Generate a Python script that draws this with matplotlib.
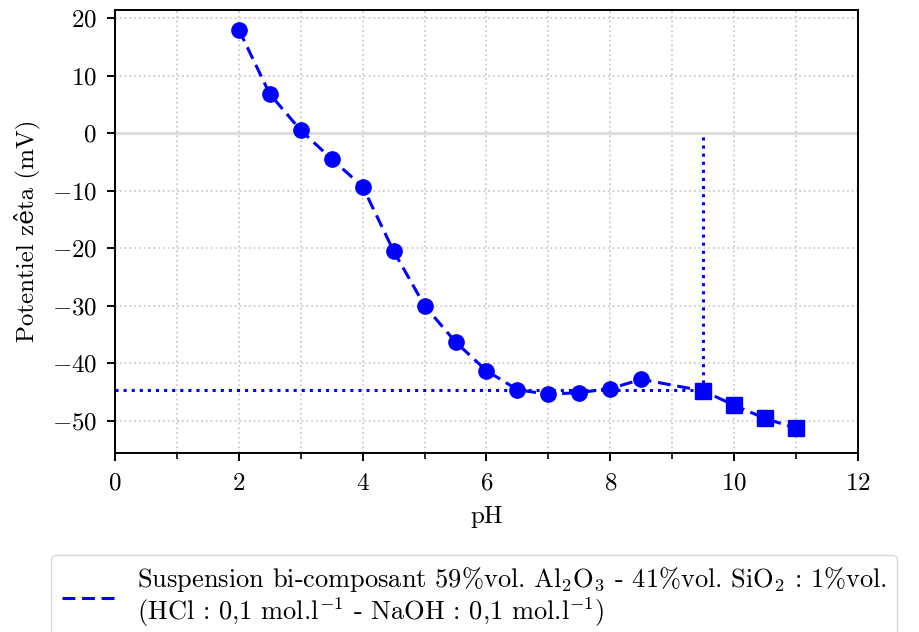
import numpy as np
import matplotlib
matplotlib.use('Agg')
from matplotlib import pyplot as plt
from matplotlib.ticker import MultipleLocator

plt.rcParams['font.family'] = ['cmr10', 'DejaVu Serif']
plt.rcParams['mathtext.fontset'] = 'cm'
plt.rcParams['axes.formatter.use_mathtext'] = True
plt.rcParams['axes.unicode_minus'] = True

# mesures (pH, potentiel zeta en mV)
ph_acid = [2, 2.5, 3, 3.5, 4, 4.5, 5, 5.5, 6, 6.5, 7, 7.5, 8, 8.5]
zeta_acid = [18, 6.8, 0.5, -4.5, -9.3, -20.5, -30, -36.3, -41.3, -44.6, -45.4, -45.1, -44.4, -42.8]
ph_base = [9.5, 10, 10.5, 11]
zeta_base = [-44.8, -47.3, -49.6, -51.3]
ph_iep = 9.5
zeta_plateau = -44.7

label = ('Suspension bi-composant 59%vol. Al$_2$O$_3$ - 41%vol. SiO$_2$ : 1%vol.\n'
         '(HCl : 0,1 mol.l$^{-1}$ - NaOH : 0,1 mol.l$^{-1}$)')

fs = 18
fig = plt.figure(figsize=(9.2, 6.32), dpi=100)
ax = fig.add_axes([115/920, 1-453/632, (858-115)/920, (453-9.5)/632])

ax.axhline(0, color='#dddddd', lw=2.2, zorder=1)
ax.plot(ph_acid + ph_base, zeta_acid + zeta_base, color='blue', lw=2.2, ls=(0, (4.2, 2.2)),
        label=label, zorder=3)
ax.plot(ph_acid, zeta_acid, 'o', color='blue', ms=11, zorder=4)
ax.plot(ph_base, zeta_base, 's', color='blue', ms=11, zorder=4)
ax.plot([0, ph_iep], [zeta_plateau, zeta_plateau], ':', color='blue', lw=2.2, zorder=2)
ax.plot([ph_iep, ph_iep], [zeta_base[0], 0], ':', color='blue', lw=2.2, zorder=2)

ax.set_xlim(0, 12)
ax.set_ylim(-55.6, 21.5)
ax.xaxis.set_major_locator(MultipleLocator(2))
ax.xaxis.set_minor_locator(MultipleLocator(1))
ax.yaxis.set_major_locator(MultipleLocator(10))
ax.grid(True, which='both', axis='x', ls=':', color='#cccccc', lw=1.3)
ax.grid(True, which='major', axis='y', ls=':', color='#cccccc', lw=1.3)
ax.set_axisbelow(True)
ax.tick_params(labelsize=fs, length=6, width=1.4)
ax.tick_params(axis='x', pad=8)
ax.tick_params(axis='y', pad=7)
ax.tick_params(which='minor', length=4, width=1.2)
for s in ax.spines.values():
    s.set_linewidth(1.4)

ax.set_xlabel('pH', fontsize=fs, labelpad=8)
ax.set_ylabel('Potentiel zêta (mV)', fontsize=fs, labelpad=8)

leg = fig.legend(loc='upper left', bbox_to_anchor=(51/920, 1-555/632), fontsize=19,
                 frameon=True, edgecolor='#d9d9d9', fancybox=True, handlelength=2.1,
                 handletextpad=0.75, borderpad=0.4, borderaxespad=0, framealpha=1)
for t in leg.get_texts():
    t.set_linespacing(1.05)

fig.savefig('out.png', dpi=100)
